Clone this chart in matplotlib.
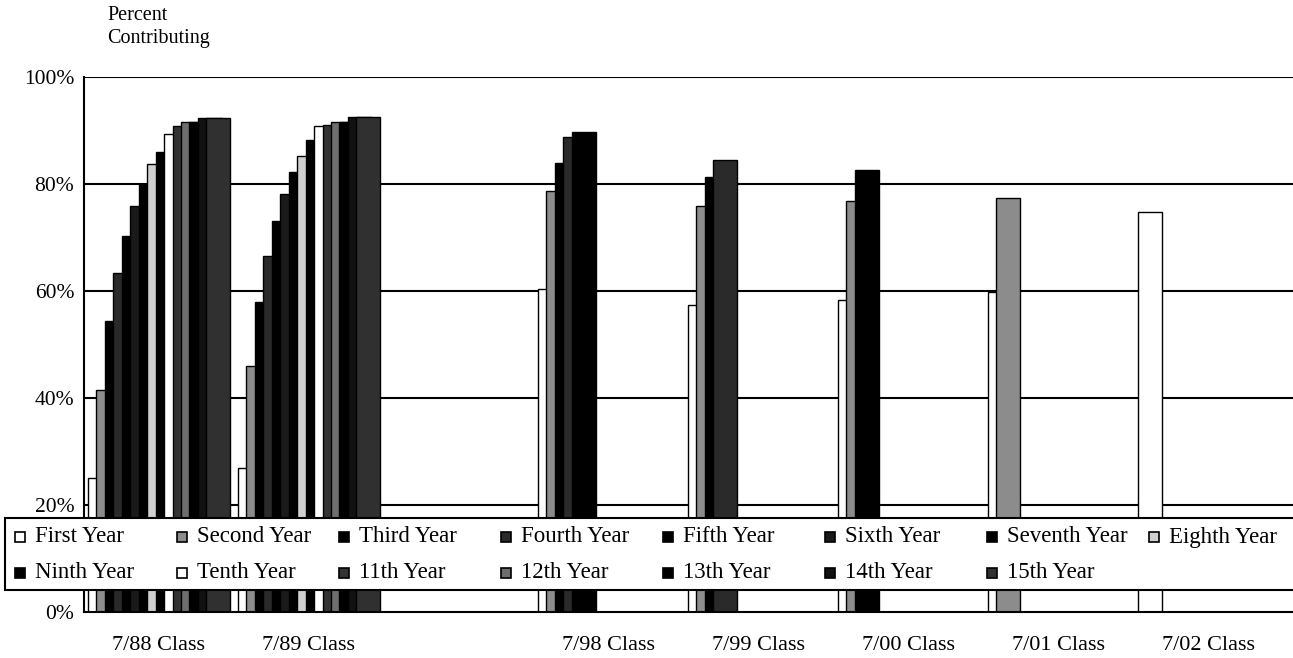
import matplotlib
matplotlib.use("Agg")
import matplotlib.pyplot as plt
from matplotlib.patches import Rectangle
from matplotlib.ticker import FuncFormatter

# categories (blank slot between 7/89 and 7/98)
classes = ["7/88 Class", "7/89 Class", "", "7/98 Class", "7/99 Class",
           "7/00 Class", "7/01 Class", "7/02 Class"]
years = ["First Year", "Second Year", "Third Year", "Fourth Year", "Fifth Year",
         "Sixth Year", "Seventh Year", "Eighth Year", "Ninth Year", "Tenth Year",
         "11th Year", "12th Year", "13th Year", "14th Year", "15th Year"]

# percent contributing, by class, one value per year of service
c88 = [25.0, 41.5, 54.3, 63.4, 70.3, 75.9, 80.0, 83.7, 86.0, 89.3, 90.9, 91.6, 91.6, 92.3, 92.3]
c89 = [26.9, 45.9, 58.0, 66.6, 73.0, 78.1, 82.2, 85.2, 88.3, 90.8, 91.1, 91.5, 91.6, 92.5, 92.5]
c98 = [60.3, 78.6, 83.9, 88.7, 89.8]
c99 = [57.4, 75.8, 81.4, 84.4]
c00 = [58.4, 76.8, 82.6]
c01 = [59.9, 77.3]
c02 = [74.8]
values = [c88, c89, [], c98, c99, c00, c01, c02]

colors = ["#ffffff", "#8c8c8c", "#000000", "#2a2a2a", "#000000",
          "#1a1a1a", "#000000", "#d0d0d0", "#000000", "#ffffff",
          "#333333", "#6e6e6e", "#000000", "#111111", "#303030"]

W, H = 1293, 658
serif = "Liberation Serif"
plt.rcParams["font.family"] = serif

fig = plt.figure(figsize=(W / 100, H / 100), dpi=100)
ax = fig.add_axes([84 / W, (H - 612) / H, (W - 84) / W, (612 - 77) / H])

# overlapping bars: each year is shifted a little to the right
bar_w = 0.16
step = 0.0565
for j in range(len(years)):
    xs, hs = [], []
    for i, vals in enumerate(values):
        if j < len(vals):
            xs.append(i - 0.5 + 0.025 + j * step)
            hs.append(vals[j] / 100)
    ax.bar(xs, hs, width=bar_w, align="edge", color=colors[j],
           edgecolor="black", linewidth=1.0, zorder=2 + j * 0.01)

for y in [0.2, 0.4, 0.6, 0.8, 1.0]:
    ax.axhline(y, color="black", linewidth=1.5, zorder=1)

ax.set_xlim(-0.5, (W - 84) / 150 - 0.5)
ax.set_ylim(0, 1.0)
ax.set_yticks([0, 0.2, 0.4, 0.6, 0.8, 1.0])
ax.yaxis.set_major_formatter(FuncFormatter(lambda v, p: f"{v * 100:.0f}%"))
ax.set_xticks(range(len(classes)))
ax.set_xticklabels(classes)
ax.tick_params(axis="y", length=0, pad=7, labelsize=15.5)
ax.tick_params(axis="x", length=0, pad=17, labelsize=16)
for s in ["top", "right"]:
    ax.spines[s].set_visible(False)
ax.spines["left"].set_linewidth(1.5)
ax.spines["bottom"].set_linewidth(1.5)

fig.text(107 / W, 1 - 16 / H, "Percent", fontsize=14.5, va="center", ha="left")
fig.text(107 / W, 1 - 39 / H, "Contributing", fontsize=14.5, va="center", ha="left")

# legend box drawn across the lower part of the plot
fig.add_artist(Rectangle((5 / W, 1 - 590 / H), (W + 20) / W, 72 / H,
                         transform=fig.transFigure, facecolor="white",
                         edgecolor="black", linewidth=1.5, zorder=5))
for k, name in enumerate(years):
    col, row = k % 8, k // 8
    x = 15 + col * 162
    y = 537 + row * 36
    fig.add_artist(Rectangle((x / W, 1 - (y + 5) / H), 10 / W, 10 / H,
                             transform=fig.transFigure, facecolor=colors[k],
                             edgecolor="black", linewidth=1.2, zorder=6))
    fig.text((x + 20) / W, 1 - y / H, name, fontsize=16.5, va="center",
             ha="left", zorder=7)

fig.savefig("out.png", dpi=100)
